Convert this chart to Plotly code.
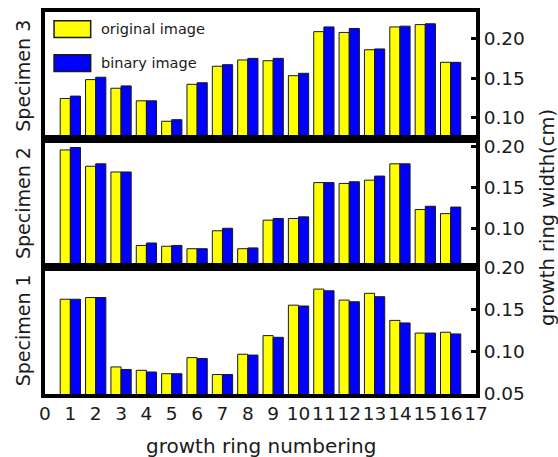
import plotly.graph_objects as go
from plotly.subplots import make_subplots

# growth ring index
rings = list(range(1, 17))

# ring widths (cm) measured on the original and the binarised image
s3_original = [0.124, 0.148, 0.137, 0.121, 0.095, 0.142, 0.165, 0.173, 0.172, 0.153, 0.209, 0.208, 0.186, 0.215, 0.218, 0.170]
s3_binary = [0.127, 0.151, 0.140, 0.121, 0.097, 0.144, 0.167, 0.175, 0.175, 0.156, 0.215, 0.213, 0.187, 0.216, 0.219, 0.170]

s2_original = [0.196, 0.176, 0.169, 0.079, 0.078, 0.075, 0.097, 0.075, 0.110, 0.112, 0.156, 0.155, 0.159, 0.179, 0.123, 0.118]
s2_binary = [0.199, 0.179, 0.169, 0.082, 0.079, 0.075, 0.100, 0.076, 0.112, 0.114, 0.156, 0.157, 0.164, 0.179, 0.127, 0.126]

s1_original = [0.162, 0.164, 0.082, 0.078, 0.074, 0.093, 0.073, 0.097, 0.119, 0.155, 0.174, 0.161, 0.169, 0.137, 0.122, 0.123]
s1_binary = [0.162, 0.164, 0.079, 0.076, 0.074, 0.092, 0.073, 0.096, 0.117, 0.154, 0.172, 0.159, 0.165, 0.134, 0.122, 0.121]

x_ticks = list(range(0, 18))
y_ticks = [0.05, 0.10, 0.15, 0.20]
y_ticktext = ["0.05", "0.10", "0.15", "0.20"]

specimens = ["Specimen 3", "Specimen 2", "Specimen 1"]
panels = [(s3_original, s3_binary), (s2_original, s2_binary), (s1_original, s1_binary)]
y_ranges = [[0.072, 0.234], [0.053, 0.209], [0.05, 0.2005]]

YELLOW = "#FFFF00"
BLUE = "#0000FF"
EDGE = "#1a1a1a"
FONT = "DejaVu Sans"

fig = make_subplots(rows=3, cols=1, shared_xaxes=True, vertical_spacing=0)

for i, (orig, binr) in enumerate(panels):
    row = i + 1
    fig.add_trace(go.Bar(x=rings, y=orig, name="original image",
                         marker=dict(color=YELLOW, line=dict(color=EDGE, width=1)),
                         showlegend=False), row=row, col=1)
    fig.add_trace(go.Bar(x=rings, y=binr, name="binary image",
                         marker=dict(color=BLUE, line=dict(color=EDGE, width=1)),
                         showlegend=False), row=row, col=1)
    fig.update_yaxes(range=y_ranges[i], side="right", tickvals=y_ticks, ticktext=y_ticktext,
                     ticks="inside", ticklen=5, tickwidth=3, tickcolor="black",
                     showline=True, linewidth=4, linecolor="black", mirror=True,
                     showgrid=False, zeroline=False, automargin=False,
                     tickfont=dict(family=FONT, size=18.5, color="#1a1a1a"),
                     row=row, col=1)
    fig.update_xaxes(range=[0, 17], tickvals=x_ticks, ticks="", tickangle=0,
                     showline=True, linewidth=4, linecolor="black", mirror=True,
                     showgrid=False, zeroline=False, automargin=False,
                     tickfont=dict(family=FONT, size=18.5, color="#1a1a1a"),
                     showticklabels=(row == 3), row=row, col=1)

annotations = []
centers = [5 / 6, 3 / 6, 1 / 6]
for name, yc in zip(specimens, centers):
    annotations.append(dict(text=name, x=-0.051, y=yc, xref="paper", yref="paper",
                            textangle=-90, showarrow=False, xanchor="center", yanchor="middle",
                            font=dict(family=FONT, size=19, color="#1a1a1a")))

annotations.append(dict(text="growth ring numbering", x=0.5, y=-0.135, xref="paper", yref="paper",
                        showarrow=False, xanchor="center", yanchor="middle",
                        font=dict(family=FONT, size=20, color="#1a1a1a")))
annotations.append(dict(text="growth ring width(cm)", x=1.166, y=0.462, xref="paper", yref="paper",
                        textangle=-90, showarrow=False, xanchor="center", yanchor="middle",
                        font=dict(family=FONT, size=19.5, color="#1a1a1a")))

# legend drawn as boxes with labels in the top panel
legend_items = [("original image", YELLOW, 0.955), ("binary image", BLUE, 0.866)]
shapes = []
for label, color, yc in legend_items:
    shapes.append(dict(type="rect", xref="paper", yref="paper",
                       x0=0.021, x1=0.106, y0=yc - 0.022, y1=yc + 0.022,
                       fillcolor=color, line=dict(color=EDGE, width=1.5)))
    annotations.append(dict(text=label, x=0.125, y=yc, xref="paper", yref="paper",
                            showarrow=False, xanchor="left", yanchor="middle",
                            font=dict(family=FONT, size=14.5, color="#1a1a1a")))

fig.update_layout(
    width=558, height=457,
    margin=dict(l=45, r=81.5, t=12, b=63),
    barmode="group", bargap=0.2, bargroupgap=0,
    plot_bgcolor="white", paper_bgcolor="white",
    showlegend=False,
    annotations=annotations, shapes=shapes,
)

fig.write_html("out.html")
